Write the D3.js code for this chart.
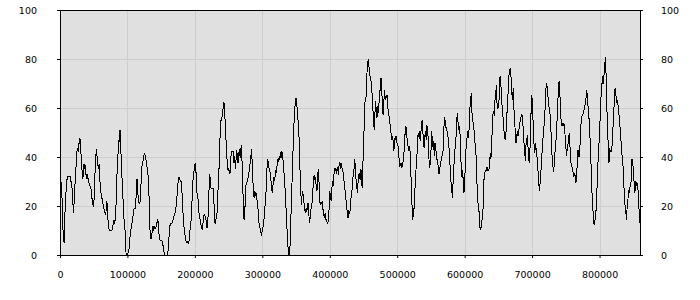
<!DOCTYPE html>
<html>
<head>
<meta charset="utf-8">
<script src="https://cdn.jsdelivr.net/npm/d3@7"></script>
<style>
  body { margin: 0; background: #fff; }
  svg { display: block; }
  .tick-label { font-family: "DejaVu Sans", Verdana, sans-serif; font-size: 9.5px; fill: #000; }
</style>
</head>
<body>
<svg id="chart" width="700" height="300"></svg>
<script>
// sample spacing along x (one reading every 1000 units)
const sampleStep = 1000;
const xDomain = [0, 860000];
const yDomain = [0, 100];
const xTickValues = [0, 100000, 200000, 300000, 400000, 500000, 600000, 700000, 800000];
const yTickValues = [0, 20, 40, 60, 80, 100];

// readings, one per sampleStep
const values = [
  32, 32, 28, 23, 14, 6, 5.5, 14, 22, 26,
  30, 32, 32, 32, 32, 32, 31, 28, 27, 22,
  17, 22, 28, 32, 37, 42, 43.5, 42, 45, 47.5,
  47, 42, 37.5, 33, 31, 37, 35, 37, 33, 33,
  31, 33, 30, 29.5, 29, 27.5, 27, 24, 22, 20.5,
  20, 26, 34, 40, 43.4, 40, 37, 35, 37, 31,
  27, 25, 23.5, 22, 20.5, 19, 18, 17, 16.5, 22,
  21, 15, 12, 10, 10, 10, 10, 10, 11, 13,
  14.4, 12.5, 15, 20, 28, 37, 41, 47, 46, 51,
  44, 38, 31, 25, 20, 14, 11, 9, 0, 0,
  0.5, 1, 1.5, 4, 8, 10, 12, 13.5, 15.5, 17.5,
  19, 19, 19, 25, 31, 30, 22, 21.5, 21, 22,
  28, 34, 37.5, 38, 40, 41.4, 41, 40, 38, 36,
  34, 31.5, 24, 12, 8, 6.5, 8, 10.5, 12, 10,
  11.5, 11.5, 11, 12, 13.5, 14.5, 12, 8, 6.3, 6,
  6, 5.8, 5, 3.5, 1.5, 0, 0, 0, 0, 0,
  1, 4, 9, 12, 12.5, 13, 13, 13.5, 15, 16,
  16.5, 17.5, 19.5, 22, 26, 29.5, 31.5, 31.5, 30.5, 30,
  30, 25, 19, 14, 11, 9, 7, 5.5, 5.2, 5.5,
  5, 4.5, 8, 11, 13.5, 15.5, 24, 30, 33, 35,
  37, 37.3, 32, 25.5, 24.5, 22, 17.5, 16, 14, 12.5,
  11, 10.3, 13, 16, 16.5, 16, 15, 13.5, 11, 12.5,
  19, 27, 33, 30, 27, 27, 27, 27, 23, 16.5,
  12.5, 14, 16, 17.5, 24, 33, 36, 45, 55, 55,
  56, 58, 60, 62.5, 59.5, 54, 48, 42, 37.5, 35,
  35.3, 34, 33, 38, 42.3, 42.3, 42.3, 42.3, 37.5, 40.5,
  35, 39, 43, 40.3, 37.5, 42, 40.3, 43.7, 39.5, 45,
  37.5, 29.4, 17, 14.4, 17, 25.3, 29.4, 29.6, 30, 32,
  33.5, 35.5, 37.5, 40, 43.4, 37.5, 30.7, 24, 23.3, 26,
  24, 25.3, 22.6, 21.2, 17, 13.3, 11.7, 10.3, 9, 8.3,
  10.3, 11.5, 13.7, 15.8, 20, 23.3, 28, 36, 39, 37.5,
  35.5, 34.5, 32.8, 30, 26.7, 25.3, 29, 32, 31, 32,
  34.8, 33.5, 37, 39, 38, 40.3, 39, 41, 42.3, 39.5,
  42, 37.5, 34, 30, 26, 20, 13, 9, 3.5, 0,
  0, 3.5, 9.7, 22.6, 29.4, 37.5, 47, 54, 59.3, 62.7,
  64, 62, 58, 55, 50.5, 44.4, 33.5, 26, 20.5, 24.6,
  26, 22.6, 21, 18.5, 17, 19.2, 17.4, 20.5, 21.2, 16.5,
  13, 15.5, 18.5, 20, 22, 26.7, 30.7, 32.8, 30.7, 32,
  27.3, 26, 32.8, 35, 30, 22, 20.4, 21.5, 21, 22,
  18.5, 17, 15, 17, 14.4, 14.4, 13.3, 13, 14.4, 19,
  26, 24, 22, 26.7, 30, 28, 32, 35, 34.5, 35.5,
  33, 36, 34.5, 32.8, 37.5, 38, 35, 37.5, 35.5, 35,
  33.5, 30.7, 28, 25.3, 22.6, 20, 17, 15, 18.5, 17,
  17.8, 22.6, 24, 26.7, 30, 33.5, 35, 39, 36, 30.7,
  28, 25.3, 30, 32.8, 33, 30.7, 35, 33.5, 27.3, 36,
  44.4, 52.5, 62, 63.7, 64.8, 73.6, 77.7, 80, 77, 75,
  72.2, 71.6, 68.8, 64.8, 59.3, 54, 51.2, 58, 62.7, 59,
  56, 60.7, 58, 62, 64.8, 69.5, 72.2, 66, 63.4, 57.3,
  60.7, 67.5, 64.8, 63.4, 64.8, 65.4, 60.7, 58, 56.6, 53.9,
  52.5, 49, 47, 48.4, 46.4, 42.3, 45.7, 48.4, 47, 48.4,
  44.4, 45.5, 41, 39, 36, 37.5, 35.5, 37.5, 36, 39,
  41.6, 46.4, 51.2, 52.5, 49.8, 45.7, 44.4, 43, 43.7, 42.3,
  35, 28, 20, 14.4, 17, 19.2, 25.3, 30.7, 35.5, 40.3,
  43, 49.8, 48.4, 50.5, 46.4, 49.8, 52.5, 55.2, 51, 45.7,
  43.7, 48.4, 50.5, 47, 52.5, 52, 47, 39.6, 35.5, 37.5,
  41.6, 50.5, 47, 44, 46.5, 40.3, 45.7, 43.5, 41.5, 39,
  37.5, 36, 33, 35, 37, 38.5, 40, 41, 42.5, 49.8,
  56.3, 55, 52.5, 51.2, 50.5, 48.4, 47.5, 43, 39, 30.7,
  29.4, 26, 23.3, 30.7, 36, 41, 44.4, 47, 53.2, 58,
  55, 51.2, 52.5, 50.5, 41, 36, 32, 34.5, 29.4, 25.3,
  30, 36, 43, 47, 48.4, 50.5, 47.8, 55, 60.7, 64,
  66, 57.3, 54.5, 54, 50.5, 47, 43, 40.3, 32, 22.6,
  21, 19.2, 14.4, 10.3, 10.3, 13.7, 14.4, 15.8, 28, 32,
  33.7, 34.6, 34.6, 36, 34.6, 34.8, 34.6, 37.5, 41.6, 39,
  47, 50.5, 57.3, 58.6, 56.6, 63.4, 65.4, 69.5, 62, 60,
  60.5, 63.4, 72.2, 73, 68, 63.4, 58, 56, 51.2, 49.8,
  47, 49, 52.5, 59.3, 64.8, 68, 75, 75.6, 76.3, 71.6,
  66, 63.4, 68, 60.7, 53.9, 51.2, 45.7, 47, 50.5, 48.5,
  49.8, 52.5, 53.9, 56, 56.6, 57.3, 53.9, 51.8, 45.7, 42.3,
  38.2, 45, 47, 49, 44, 39, 37.5, 44.4, 52.5, 65.4,
  64, 58, 49.8, 44.4, 41.6, 45.7, 43, 41, 37.5, 33.5,
  28.7, 26, 30, 33.5, 39, 43, 47, 50.5, 53.9, 58,
  64.8, 70.2, 69.5, 66, 63.4, 60.7, 59.3, 56.6, 50.5, 43,
  39, 36, 34.1, 37.5, 42, 45.7, 48.4, 55.2, 60.7, 68.8,
  70.9, 68, 59.3, 55.2, 53.2, 53.5, 52.5, 54, 52.5, 48.4,
  44.4, 40.3, 43, 44.4, 48.4, 49, 45.7, 39, 37, 36,
  34.8, 33.5, 32, 33.5, 32, 29.4, 32, 37.5, 43, 40.3,
  40.3, 44.4, 51.2, 55.2, 56.6, 57.3, 58, 59.3, 60.7, 62,
  64, 67.5, 64, 60.7, 58, 52.5, 47, 40.3, 32, 24,
  20, 14.4, 12.4, 13, 17, 18.5, 25.3, 33.5, 39.6, 44.4,
  49.8, 56.6, 63.4, 69.5, 70.2, 73, 70, 75.6, 78.4, 81,
  70.2, 59.3, 49.8, 45, 37.5, 43.7, 42.3, 42.3, 42.3, 47,
  52.5, 57.3, 63.4, 68, 66, 63.4, 62, 63.4, 58, 57,
  53.2, 50.5, 45.7, 41.6, 39.6, 35.5, 29.4, 22, 20, 17.8,
  14.4, 20, 22, 26.7, 25.3, 27.3, 29.4, 30, 39, 39,
  34.8, 30.7, 25.3, 26.7, 30, 28, 29.4, 26.7, 21.2, 17,
  13
];

const svg = d3.select("#chart");
const margin = { top: 10, right: 60, bottom: 45, left: 60 };
const width = +svg.attr("width") - margin.left - margin.right;
const height = +svg.attr("height") - margin.top - margin.bottom;

const x = d3.scaleLinear().domain(xDomain).range([0, width]);
const y = d3.scaleLinear().domain(yDomain).range([height, 0]);

const g = svg.append("g").attr("transform", `translate(${margin.left},${margin.top})`);

// plot background
g.append("rect")
  .attr("width", width)
  .attr("height", height)
  .attr("fill", "#e0e0e0");

// grid
g.append("g")
  .selectAll("line")
  .data(xTickValues.slice(1))
  .join("line")
  .attr("x1", d => Math.round(x(d)) + 0.5)
  .attr("x2", d => Math.round(x(d)) + 0.5)
  .attr("y1", 0)
  .attr("y2", height)
  .attr("stroke", "#cdcdcd");

g.append("g")
  .selectAll("line")
  .data(yTickValues.slice(1, -1))
  .join("line")
  .attr("x1", 0)
  .attr("x2", width)
  .attr("y1", d => Math.round(y(d)) + 0.5)
  .attr("y2", d => Math.round(y(d)) + 0.5)
  .attr("stroke", "#cdcdcd");

// series
const line = d3.line()
  .x((d, i) => x(i * sampleStep))
  .y(d => y(d));

g.append("path")
  .datum(values)
  .attr("fill", "none")
  .attr("stroke", "#000")
  .attr("stroke-width", 1)
  .attr("shape-rendering", "crispEdges")
  .attr("d", line);

// axes
const xAxis = d3.axisBottom(x).tickValues(xTickValues).tickSize(3).tickPadding(13).tickFormat(d3.format("d"));
const yLeft = d3.axisLeft(y).tickValues(yTickValues).tickSize(3).tickPadding(20).tickFormat(d3.format("d"));
const yRight = d3.axisRight(y).tickValues(yTickValues).tickSize(3).tickPadding(18).tickFormat(d3.format("d"));

function styleAxis(sel) {
  sel.select(".domain").remove();
  sel.selectAll(".tick line").attr("stroke", "#000");
  sel.selectAll(".tick text").attr("class", "tick-label").attr("font-family", null).attr("font-size", null);
}

g.append("g").attr("transform", `translate(0,${height})`).call(xAxis).call(styleAxis);
g.append("g").call(yLeft).call(styleAxis);
g.append("g").attr("transform", `translate(${width},0)`).call(yRight).call(styleAxis);

// frame
g.append("rect")
  .attr("x", 0.5)
  .attr("y", 0.5)
  .attr("width", width)
  .attr("height", height)
  .attr("fill", "none")
  .attr("stroke", "#000");
</script>
</body>
</html>
